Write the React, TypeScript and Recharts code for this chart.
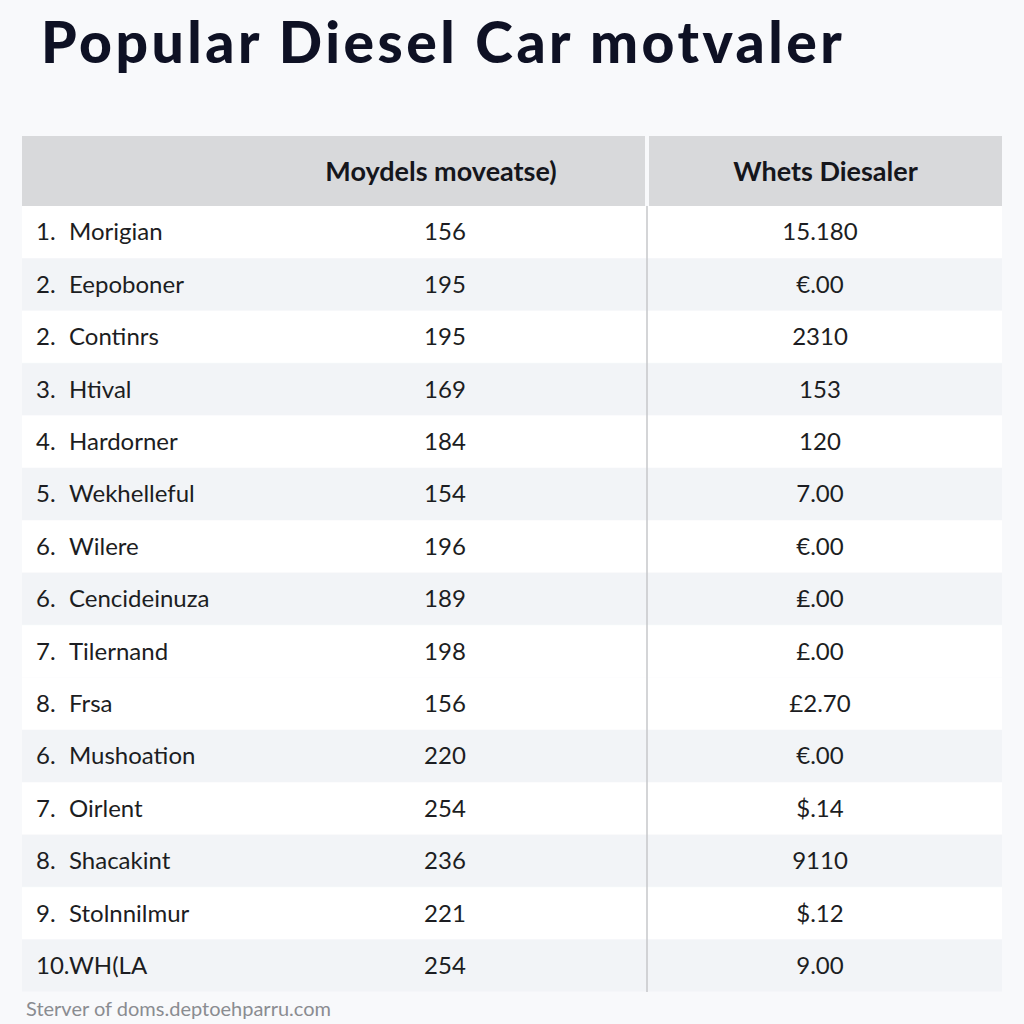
import React from "react";
import {
  ComposedChart,
  Bar,
  Cell,
  XAxis,
  YAxis,
  LabelList,
  ReferenceLine,
} from "recharts";

const ranks = ["1.", "2.", "2.", "3.", "4.", "5.", "6.", "6.", "7.", "8.", "6.", "7.", "8.", "9.", "10."];
const names = [
  "Morigian",
  "Eepoboner",
  "Continrs",
  "Htival",
  "Hardorner",
  "Wekhelleful",
  "Wilere",
  "Cencideinuza",
  "Tilernand",
  "Frsa",
  "Mushoation",
  "Oirlent",
  "Shacakint",
  "Stolnnilmur",
  "WH(LA",
];
const models = [156, 195, 195, 169, 184, 154, 196, 189, 198, 156, 220, 254, 236, 221, 254];
const prices = [
  "15.180",
  "€.00",
  "2310",
  "153",
  "120",
  "7.00",
  "€.00",
  "₤.00",
  "£.00",
  "£2.70",
  "€.00",
  "$.14",
  "9110",
  "$.12",
  "9.00",
];
const headers = ["Moydels moveatse)", "Whets Diesaler"];

// rows with the light grey band
const shadedRows = [1, 3, 5, 7, 10, 12, 14];

const rows = names.map((name, i) => ({
  rank: ranks[i],
  name,
  models: models[i],
  price: prices[i],
}));

const TABLE_W = 980;
const BODY_H = 786;
const COL2_CENTER = 423;
const COL3_CENTER = 798;
const DIVIDER_X = 625;
const FONT = "Lato, 'Noto Sans', sans-serif";
const TEXT = "#1c1d22";

const boxOf = (props: any) => {
  const vb = props.viewBox || {};
  return {
    x: (props.x ?? vb.x) as number,
    y: (props.y ?? vb.y) as number,
    h: (props.height ?? vb.height) as number,
  };
};

const nameLabel = (props: any) => {
  const { x, y, h } = boxOf(props);
  const i = props.index as number;
  return (
    <g>
      <text x={x + 14} y={y + h / 2} dy="0.35em" fontFamily={FONT} fontSize={24} fill={TEXT}>
        {ranks[i]}
      </text>
      <text x={x + 47} y={y + h / 2} dy="0.35em" fontFamily={FONT} fontSize={24} fill={TEXT}>
        {props.value}
      </text>
    </g>
  );
};

const cellLabel = (offset: number) => (props: any) => {
  const { x, y, h } = boxOf(props);
  return (
    <text
      x={x + offset}
      y={y + h / 2}
      dy="0.35em"
      textAnchor="middle"
      fontFamily={FONT}
      fontSize={24}
      fill={TEXT}
    >
      {props.value}
    </text>
  );
};

export default function App() {
  return (
    <div
      style={{
        position: "absolute",
        left: 0,
        top: 0,
        width: 1024,
        height: 1024,
        overflow: "hidden",
        background: "#f8f9fb",
        fontFamily: FONT,
      }}
    >
      <div
        style={{
          position: "absolute",
          left: 41,
          top: 8,
          fontSize: 57,
          fontWeight: 900,
          letterSpacing: 3.5,
          color: "#0e1124",
          lineHeight: "66px",
          whiteSpace: "nowrap",
        }}
      >
        Popular Diesel Car motvaler
      </div>

      {/* header row */}
      <div
        style={{
          position: "absolute",
          left: 22,
          top: 136,
          width: 623,
          height: 70,
          background: "#d8d9db",
        }}
      >
        <div
          style={{
            position: "absolute",
            left: 0,
            width: 838,
            top: 0,
            lineHeight: "70px",
            fontSize: 27,
            fontWeight: 700,
            color: "#15161c",
            textAlign: "center",
            whiteSpace: "nowrap",
          }}
        >
          {headers[0]}
        </div>
      </div>
      <div
        style={{
          position: "absolute",
          left: 649,
          top: 136,
          width: 353,
          height: 70,
          background: "#d8d9db",
          lineHeight: "70px",
          fontSize: 27,
          fontWeight: 700,
          color: "#15161c",
          textAlign: "center",
          whiteSpace: "nowrap",
        }}
      >
        {headers[1]}
      </div>

      <div style={{ position: "absolute", left: 22, top: 206 }}>
        <ComposedChart
          width={TABLE_W}
          height={BODY_H}
          data={rows}
          layout="vertical"
          margin={{ top: 0, right: 0, bottom: 0, left: 0 }}
          barCategoryGap={0}
        >
          <XAxis type="number" domain={[0, TABLE_W]} hide />
          <YAxis type="category" dataKey="name" hide />
          <Bar dataKey={() => TABLE_W} isAnimationActive={false}>
            {rows.map((_, i) => (
              <Cell key={i} fill={shadedRows.includes(i) ? "#f2f4f7" : "#ffffff"} />
            ))}
            <LabelList dataKey="name" content={nameLabel} />
            <LabelList dataKey="models" content={cellLabel(COL2_CENTER)} />
            <LabelList dataKey="price" content={cellLabel(COL3_CENTER)} />
          </Bar>
          <ReferenceLine x={DIVIDER_X} stroke="#c6c7ca" strokeWidth={1.5} />
        </ComposedChart>
      </div>

      <div
        style={{
          position: "absolute",
          left: 26,
          top: 996,
          fontSize: 20,
          color: "#8a8c91",
          whiteSpace: "nowrap",
          lineHeight: "24px",
        }}
      >
        Sterver of doms.deptoehparru.com
      </div>
    </div>
  );
}
